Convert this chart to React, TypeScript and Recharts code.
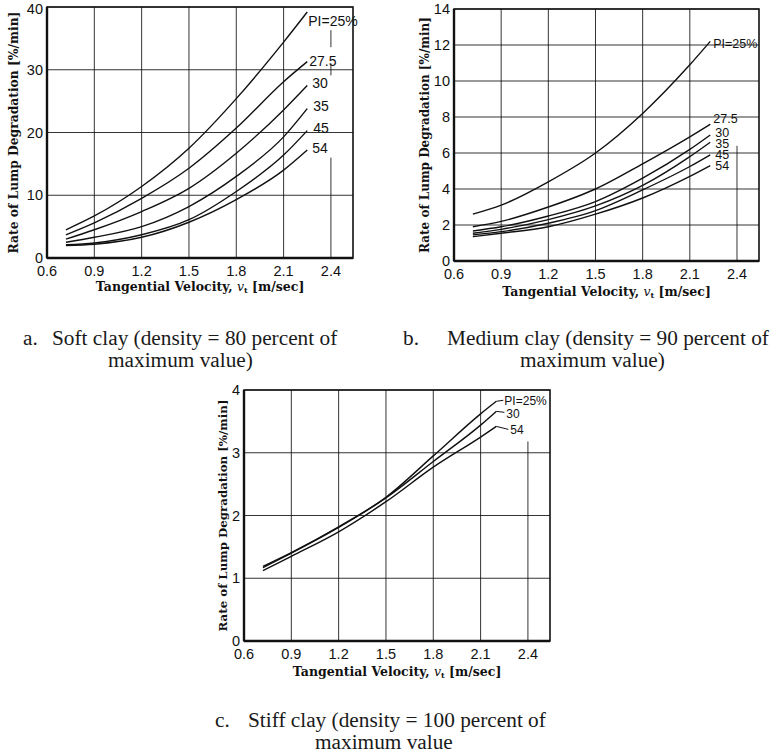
import { LineChart, Line, XAxis, YAxis, CartesianGrid, ReferenceLine, ReferenceArea, Label } from 'recharts';

// velocity stations [m/sec]
const softVelocity = [0.72, 0.9, 1.2, 1.5, 1.8, 2.1, 2.25];
const mediumVelocity = [0.72, 0.9, 1.2, 1.5, 1.8, 2.1, 2.23];
const stiffVelocity = [0.72, 0.9, 1.2, 1.5, 1.8, 2.1, 2.2];

// a. soft clay [%/min]
const softPI25 = [4.5, 6.7, 11.4, 17.5, 25.4, 34.4, 39.2];
const softPI275 = [3.7, 5.6, 9.5, 14.3, 20.7, 28.1, 31.3];
const softPI30 = [3.0, 4.5, 7.4, 11.1, 16.7, 23.6, 27.5];
const softPI35 = [2.5, 3.3, 5.0, 8.2, 13.0, 19.3, 23.8];
const softPI45 = [2.1, 2.4, 3.7, 6.1, 10.6, 16.4, 20.3];
const softPI54 = [2.0, 2.2, 3.3, 5.7, 9.3, 14.0, 17.2];

// b. medium clay
const mediumPI25 = [2.6, 3.1, 4.4, 6.0, 8.2, 10.9, 12.2];
const mediumPI275 = [1.9, 2.2, 3.0, 4.0, 5.4, 6.9, 7.6];
const mediumPI30 = [1.67, 1.9, 2.5, 3.3, 4.6, 6.2, 7.0];
const mediumPI35 = [1.54, 1.76, 2.3, 3.06, 4.2, 5.8, 6.6];
const mediumPI45 = [1.45, 1.63, 2.1, 2.8, 3.95, 5.25, 5.9];
const mediumPI54 = [1.35, 1.54, 1.9, 2.6, 3.5, 4.7, 5.3];

// c. stiff clay
const stiffPI25 = [1.19, 1.41, 1.82, 2.29, 2.95, 3.62, 3.82];
const stiffPI30 = [1.17, 1.4, 1.81, 2.28, 2.86, 3.44, 3.66];
const stiffPI54 = [1.12, 1.35, 1.74, 2.22, 2.77, 3.25, 3.42];

const velocityTicks = [0.6, 0.9, 1.2, 1.5, 1.8, 2.1, 2.4];
const softTicks = [0, 10, 20, 30, 40];
const mediumTicks = [0, 2, 4, 6, 8, 10, 12, 14];
const stiffTicks = [0, 1, 2, 3, 4];

const X_MAX = 2.54;
const INK = '#111';
const SANS = '"Liberation Sans", Arial, sans-serif';
const SERIF = '"DejaVu Serif", serif';
const CAPTION = '"Liberation Serif", serif';

const build = (xs: number[], cols: Record<string, number[]>) =>
  xs.map((x, i) => {
    const row: Record<string, number> = { x };
    Object.keys(cols).forEach((k) => (row[k] = cols[k][i]));
    return row;
  });

const softData = build(softVelocity, { pi25: softPI25, pi275: softPI275, pi30: softPI30, pi35: softPI35, pi45: softPI45, pi54: softPI54 });
const mediumData = build(mediumVelocity, { pi25: mediumPI25, pi275: mediumPI275, pi30: mediumPI30, pi35: mediumPI35, pi45: mediumPI45, pi54: mediumPI54 });
const stiffData = build(stiffVelocity, { pi25: stiffPI25, pi30: stiffPI30, pi54: stiffPI54 });

interface Series {
  key: string;
  text: string;
  dx: number;
  dy: number;
  leader?: [number, number];
}

interface PanelProps {
  data: Record<string, number>[];
  series: Series[];
  yTicks: number[];
  left: number;
  top: number;
  width: number;
  height: number;
  marginTop: number;
  marginRight: number;
  yAxisWidth: number;
  xAxisHeight: number;
  cuts: [number, number][];
  yTitleX: number;
  yTitleSize: number;
  xTitleDy: number;
  labelSize: number;
}

function XTitle({ viewBox, dy }: any) {
  const cx = viewBox.x + viewBox.width / 2;
  return (
    <text x={cx} y={viewBox.y + dy} textAnchor="middle" fontFamily={SERIF} fontWeight="bold" fontSize={12.5} fill={INK}>
      Tangential Velocity,{' '}
      <tspan fontStyle="italic" fontWeight="normal">v</tspan>
      <tspan fontSize={8} dy={2}>t</tspan>
      <tspan dy={-2}> [m/sec]</tspan>
    </text>
  );
}

function YTitle({ viewBox, x, size }: any) {
  const cy = viewBox.y + viewBox.height / 2;
  return (
    <text
      x={x}
      y={cy}
      transform={`rotate(-90 ${x} ${cy})`}
      textAnchor="middle"
      dominantBaseline="central"
      fontFamily={SERIF}
      fontWeight="bold"
      fontSize={size}
      fill={INK}
    >
      Rate of Lump Degradation [%/min]
    </text>
  );
}

function Panel(p: PanelProps) {
  const yMax = p.yTicks[p.yTicks.length - 1];
  const last = p.data.length - 1;
  return (
    <div style={{ position: 'absolute', left: p.left, top: p.top }}>
      <LineChart
        width={p.width}
        height={p.height}
        data={p.data}
        margin={{ top: p.marginTop, right: p.marginRight, bottom: 0, left: 0 }}
      >
        <CartesianGrid vertical={false} stroke={INK} strokeWidth={1} strokeOpacity={0.85} />
        {velocityTicks.slice(1, -1).map((v) => (
          <ReferenceLine key={v} x={v} stroke={INK} strokeOpacity={0.85} />
        ))}
        {p.cuts.map(([a, b], i) => (
          <ReferenceLine
            key={`cut${i}`}
            segment={[{ x: 2.4, y: a }, { x: 2.4, y: b }]}
            stroke={INK}
            strokeOpacity={0.85}
          />
        ))}
        <ReferenceArea x1={0.6} x2={X_MAX} y1={0} y2={yMax} fill="none" stroke={INK} strokeWidth={1.6} />
        <XAxis
          dataKey="x"
          type="number"
          domain={[0.6, X_MAX]}
          ticks={velocityTicks}
          allowDataOverflow
          height={p.xAxisHeight}
          tickLine={false}
          tickSize={3}
          tickMargin={5}
          axisLine={{ stroke: INK, strokeWidth: 2.4 }}
          tickFormatter={(v: number) => v.toFixed(1)}
          tick={{ fontSize: 14.5, fill: INK, fontFamily: SANS }}
        >
          <Label content={(lp: any) => <XTitle viewBox={lp.viewBox} dy={p.xTitleDy} />} />
        </XAxis>
        <YAxis
          type="number"
          domain={[0, yMax]}
          ticks={p.yTicks}
          width={p.yAxisWidth}
          tickLine={false}
          tickSize={2}
          axisLine={{ stroke: INK, strokeWidth: 2.4 }}
          tick={{ fontSize: 14.5, fill: INK, fontFamily: SANS }}
        >
          <Label content={(lp: any) => <YTitle viewBox={lp.viewBox} x={p.yTitleX} size={p.yTitleSize} />} />
        </YAxis>
        {p.series.map((s) => (
          <Line
            key={s.key}
            dataKey={s.key}
            type="monotone"
            stroke={INK}
            strokeWidth={1.4}
            dot={false}
            isAnimationActive={false}
            label={(lp: any) =>
              lp.index === last ? (
                <g key={`${s.key}-lbl`}>
                  {s.leader && (
                    <line x1={lp.x} y1={lp.y} x2={lp.x + s.leader[0]} y2={lp.y + s.leader[1]} stroke={INK} strokeWidth={1} />
                  )}
                  <text x={lp.x + s.dx} y={lp.y + s.dy} fontSize={p.labelSize} fontFamily={SANS} fill={INK}>
                    {s.text}
                  </text>
                </g>
              ) : (
                <g key={`${s.key}-${lp.index}`} />
              )
            }
          />
        ))}
      </LineChart>
    </div>
  );
}

const softSeries: Series[] = [
  { key: 'pi25', text: 'PI=25%', dx: 1, dy: 14 },
  { key: 'pi275', text: '27.5', dx: 2, dy: 4 },
  { key: 'pi30', text: '30', dx: 5, dy: 3 },
  { key: 'pi35', text: '35', dx: 6, dy: 2 },
  { key: 'pi45', text: '45', dx: 6, dy: 2 },
  { key: 'pi54', text: '54', dx: 5, dy: 3 },
];

const mediumSeries: Series[] = [
  { key: 'pi25', text: 'PI=25%', dx: 3, dy: 7 },
  { key: 'pi275', text: '27.5', dx: 3, dy: -1 },
  { key: 'pi30', text: '30', dx: 5, dy: 2 },
  { key: 'pi35', text: '35', dx: 5, dy: 6 },
  { key: 'pi45', text: '45', dx: 5, dy: 4 },
  { key: 'pi54', text: '54', dx: 5, dy: 4 },
];

const stiffSeries: Series[] = [
  { key: 'pi25', text: 'PI=25%', dx: 8, dy: 4, leader: [7, -1] },
  { key: 'pi30', text: '30', dx: 10, dy: 7, leader: [8, 1] },
  { key: 'pi54', text: '54', dx: 14, dy: 8, leader: [12, 3] },
];

const captionStyle = {
  position: 'absolute' as const,
  fontFamily: CAPTION,
  fontSize: 21.3,
  color: '#1a1a1a',
  whiteSpace: 'nowrap' as const,
  lineHeight: '22px',
};

export default function App() {
  return (
    <div style={{ position: 'absolute', left: 0, top: 0, width: 779, height: 756, background: '#fff', overflow: 'hidden' }}>
      <Panel
        data={softData}
        series={softSeries}
        yTicks={softTicks}
        left={0}
        top={0}
        width={372}
        height={300}
        marginTop={7}
        marginRight={19}
        yAxisWidth={47}
        xAxisHeight={42}
        cuts={[[0, 16], [29.1, 31], [33.6, 36.3]]}
        yTitleX={13}
        yTitleSize={12.3}
        xTitleDy={33}
        labelSize={14}
      />
      <Panel
        data={mediumData}
        series={mediumSeries}
        yTicks={mediumTicks}
        left={400}
        top={0}
        width={379}
        height={300}
        marginTop={9}
        marginRight={20}
        yAxisWidth={54}
        xAxisHeight={39}
        cuts={[[0, 6.4]]}
        yTitleX={25}
        yTitleSize={12}
        xTitleDy={35}
        labelSize={12.5}
      />
      <Panel
        data={stiffData}
        series={stiffSeries}
        yTicks={stiffTicks}
        left={200}
        top={380}
        width={370}
        height={300}
        marginTop={10}
        marginRight={20}
        yAxisWidth={44}
        xAxisHeight={39}
        cuts={[[0, 3.18]]}
        yTitleX={23}
        yTitleSize={11.8}
        xTitleDy={35}
        labelSize={12}
      />
      <div style={{ ...captionStyle, left: 23, top: 327 }}>a.</div>
      <div style={{ ...captionStyle, left: 52, top: 327 }}>Soft clay (density = 80 percent of</div>
      <div style={{ ...captionStyle, left: 108, top: 349 }}>maximum value)</div>
      <div style={{ ...captionStyle, left: 403, top: 327 }}>b.</div>
      <div style={{ ...captionStyle, left: 447, top: 327 }}>Medium clay (density = 90 percent of</div>
      <div style={{ ...captionStyle, left: 520, top: 349 }}>maximum value)</div>
      <div style={{ ...captionStyle, left: 215, top: 709 }}>c.</div>
      <div style={{ ...captionStyle, left: 248, top: 709 }}>Stiff clay (density = 100 percent of</div>
      <div style={{ ...captionStyle, left: 315, top: 731 }}>maximum value</div>
    </div>
  );
}
